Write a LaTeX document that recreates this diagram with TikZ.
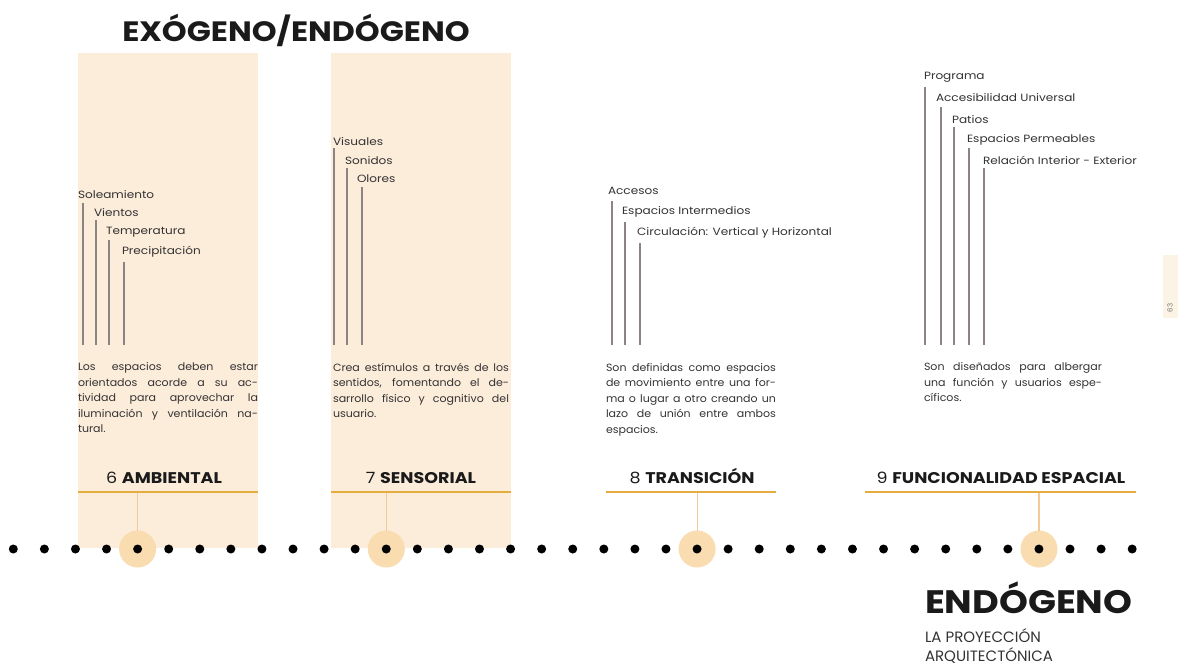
\documentclass[tikz,border=0pt]{standalone}
\usepackage{fontspec}
\setmainfont{Poppins}
\newfontfamily\bodyfont{Poppins}[FakeStretch=1.15]
\newfontfamily\parafont{Poppins}[FakeStretch=1.05]
\newfontfamily\headfont{Poppins}[FakeStretch=1.13]
\definecolor{band}{HTML}{FCECDA}
\definecolor{gold}{HTML}{E5AC3F}
\definecolor{halofill}{HTML}{F9DCAF}
\definecolor{linkc}{HTML}{F3C99B}
\definecolor{stemc}{HTML}{8C8484}
\definecolor{txt}{HTML}{333333}
\definecolor{ink}{HTML}{1A1A1A}
\definecolor{strip}{HTML}{FBF4E4}
% one justified line of a paragraph
\newcommand{\jline}[1]{\hbox to \hsize{\spaceskip=0.3em plus 2em\relax #1}\par}
\begin{document}
\begin{tikzpicture}[x=1pt,y=-1pt,
  every node/.style={inner sep=0pt, outer sep=0pt},
  item/.style={anchor=west, font=\bodyfont\fontsize{10.5}{12}\selectfont, text=txt},
  stem/.style={draw=stemc, line width=1.5pt},
  para/.style={anchor=north west, align=left, font=\parafont\fontsize{10.5}{15.5}\selectfont, text=txt},
  cat/.style={anchor=base, font=\headfont\fontsize{15.5}{17}\selectfont, text=ink},
  rulebar/.style={draw=gold, line width=2.4pt},
  link/.style={draw=linkc, line width=1.2pt},
  dotnode/.style={circle, fill=black, minimum size=9pt},
  halo/.style={circle, fill=halofill, minimum size=37pt},
  heading/.style={font=\headfont\bfseries\fontsize{28}{30}\selectfont, text=ink}
]
\useasboundingbox (0,0) rectangle (1181,664);

% shaded columns behind the first two themes
\fill[band] (78,53) rectangle (258,548);
\fill[band] (331,53) rectangle (511,548);

% page number tab
\fill[strip] (1163,255) rectangle (1178,318);
\node[rotate=90, font=\fontsize{7}{8}\selectfont, text=txt!70] (pg) at (1170,308) {63};

% title
\node[heading, anchor=base] (title) at (296,41) {EXÓGENO/ENDÓGENO};

% common bottom for all stems
\coordinate (base) at (0,345);

% ---- 6 Ambiental
\node[item] (a1) at (78,195) {Soleamiento};
\node[item] (a2) at (94,213) {Vientos};
\node[item] (a3) at (106,232) {Temperatura};
\node[item] (a4) at (122,252) {Precipitación};
\coordinate (ta1) at (83,203);
\coordinate (ta2) at (96,220);
\coordinate (ta3) at (109,240);
\coordinate (ta4) at (124,262);
\foreach \s in {ta1,ta2,ta3,ta4} \draw[stem] (\s) -- (\s |- base);
\node[para, text width=180pt] (pa) at (78,363) {\jline{Los espacios deben estar}\jline{orientados acorde a su ac-}\jline{tividad para aprovechar la}\jline{iluminación y ventilación na-}tural.};

% ---- 7 Sensorial
\node[item] (b1) at (333,142) {Visuales};
\node[item] (b2) at (345,161) {Sonidos};
\node[item] (b3) at (357,179) {Olores};
\coordinate (tb1) at (334,148);
\coordinate (tb2) at (347,168);
\coordinate (tb3) at (362,187);
\foreach \s in {tb1,tb2,tb3} \draw[stem] (\s) -- (\s |- base);
\node[para, text width=176pt] (pb) at (333,363) {\jline{Crea estímulos a través de los}\jline{sentidos, fomentando el de-}\jline{sarrollo físico y cognitivo del}usuario.};

% ---- 8 Transicion
\node[item] (c1) at (608,191) {Accesos};
\node[item] (c2) at (622,212) {Espacios Intermedios};
\node[item] (c3) at (637,233) {Circulación: Vertical y Horizontal};
\coordinate (tc1) at (612,201);
\coordinate (tc2) at (625,222);
\coordinate (tc3) at (640,243);
\foreach \s in {tc1,tc2,tc3} \draw[stem] (\s) -- (\s |- base);
\node[para, text width=170pt] (pc) at (606,363) {\jline{Son definidas como espacios}\jline{de movimiento entre una for-}\jline{ma o lugar a otro creando un}\jline{lazo de unión entre ambos}espacios.};

% ---- 9 Funcionalidad espacial
\node[item] (e1) at (924,77) {Programa};
\node[item] (e2) at (936,98) {Accesibilidad Universal};
\node[item] (e3) at (952,120) {Patios};
\node[item] (e4) at (967,140) {Espacios Permeables};
\node[item] (e5) at (983,160) {Relación Interior - Exterior};
\coordinate (te1) at (925,87);
\coordinate (te2) at (941,107);
\coordinate (te3) at (954,127);
\coordinate (te4) at (969,148);
\coordinate (te5) at (984,168);
\foreach \s in {te1,te2,te3,te4,te5} \draw[stem] (\s) -- (\s |- base);
\node[para, text width=178pt] (pe) at (924,363) {\jline{Son diseñados para albergar}\jline{una función y usuarios espe-}cíficos.};

% ---- category headings with their rules
\node[cat] (k6) at (164,483) {6 \textbf{AMBIENTAL}};
\node[cat] (k7) at (421,483) {7 \textbf{SENSORIAL}};
\node[cat] (k8) at (692,483) {8 \textbf{TRANSICIÓN}};
\node[cat] (k9) at (1001,483) {9 \textbf{FUNCIONALIDAD ESPACIAL}};
\draw[rulebar] (78,492) -- (258,492);
\draw[rulebar] (331,492) -- (511,492);
\draw[rulebar] (606,492) -- (776,492);
\draw[rulebar] (865,492) -- (1136,492);
\coordinate (u6) at (137.6,493);
\coordinate (u7) at (386.3,493);
\coordinate (u8) at (697.1,493);
\coordinate (u9) at (1039.0,493);

% ---- timeline: highlight halos, then the row of dots
\node[halo] (h6) at (137.6,549) {};
\node[halo] (h7) at (386.3,549) {};
\node[halo] (h8) at (697.1,549) {};
\node[halo] (h9) at (1039.0,549) {};
\draw[link] (u6) -- (h6);
\draw[link] (u7) -- (h7);
\draw[link] (u8) -- (h8);
\draw[link] (u9) -- (h9);
\foreach \k in {0,...,36} \node[dotnode] (d\k) at ({13.3+31.08*\k},549) {};

% ---- endogenous label
\node[heading, anchor=base west, font=\headfont\bfseries\fontsize{32.5}{34}\selectfont] (endo) at (925,613) {ENDÓGENO};
\node[anchor=base west, font=\fontsize{15}{16}\selectfont, text=txt] (sub1) at (925,642) {LA PROYECCIÓN};
\node[anchor=base west, font=\fontsize{15}{16}\selectfont, text=txt] (sub2) at (925,661) {ARQUITECTÓNICA};
\end{tikzpicture}
\end{document}
